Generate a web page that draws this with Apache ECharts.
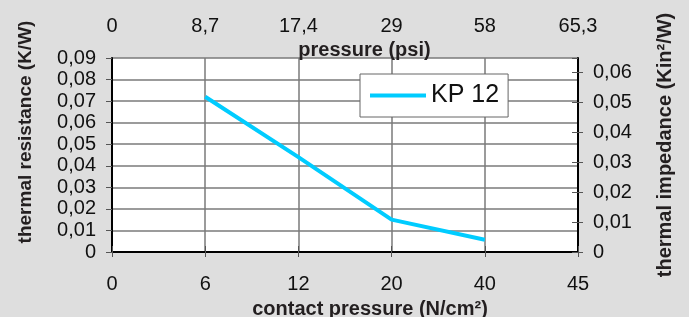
<!DOCTYPE html>
<html>
<head>
<meta charset="utf-8">
<script src="https://cdn.jsdelivr.net/npm/echarts@6/dist/echarts.min.js"></script>
<style>
  html, body { margin: 0; padding: 0; background: #dedede; }
  #chart { width: 689px; height: 317px; }
</style>
</head>
<body>
<div id="chart"></div>
<script>
// bottom axis categories (N/cm²) and matching top axis labels (psi)
const contactPressure = ['0', '6', '12', '20', '40', '45']
const pressurePsi = ['0', '8,7', '17,4', '29', '58', '65,3']

// KP 12 thermal resistance (K/W)
const kp12 = [null, 0.072, 0.044, 0.015, 0.0057, null]

const font = "'Liberation Sans', Arial, sans-serif"
const titleStyle = { color: '#231f20', fontSize: 20, fontWeight: 'bold', fontFamily: font }
const labelStyle = { color: '#111', fontSize: 20, fontFamily: font }

const comma = (v) => (v === 0 ? '0' : v.toFixed(2).replace('.', ','))

const chart = echarts.init(document.getElementById('chart'))

chart.setOption({
  backgroundColor: '#dedede',
  animation: false,
  grid: {
    left: 112,
    right: 111,
    top: 58,
    bottom: 65,
    outerBoundsMode: 'none',
    containLabel: false,
    backgroundColor: '#fff',
    show: true,
    borderWidth: 0,
  },
  legend: {
    left: 360,
    top: 74,
    padding: [9, 9, 9, 10],
    backgroundColor: '#fff',
    borderColor: '#666',
    borderWidth: 1,
    borderRadius: 0,
    icon: 'rect',
    itemWidth: 56,
    itemHeight: 4,
    textStyle: { color: '#111', fontSize: 25, fontFamily: font },
  },
  xAxis: [
    {
      type: 'category',
      position: 'bottom',
      data: contactPressure,
      boundaryGap: false,
      name: 'contact pressure (N/cm²)',
      nameLocation: 'middle',
      nameGap: 47,
      nameMoveOverlap: false,
      nameTextStyle: Object.assign({ padding: [0, 0, 0, 50] }, titleStyle),
      axisLine: { lineStyle: { color: '#000', width: 2 } },
      axisTick: { length: 5, lineStyle: { color: '#555' } },
      axisLabel: Object.assign({ margin: 22, interval: 0 }, labelStyle),
      splitLine: { show: true, lineStyle: { color: '#7a7a7a', width: 1.5 } },
    },
    {
      type: 'category',
      position: 'top',
      data: pressurePsi,
      boundaryGap: false,
      name: 'pressure (psi)',
      nameLocation: 'middle',
      nameGap: -2,
      nameMoveOverlap: false,
      nameTextStyle: Object.assign({ padding: [0, 0, 0, 39] }, titleStyle),
      axisLine: { lineStyle: { color: '#000', width: 2 } },
      axisTick: { length: 6, lineStyle: { color: '#555' } },
      axisLabel: Object.assign({ margin: 22, interval: 0 }, labelStyle),
      splitLine: { show: false },
    },
  ],
  yAxis: [
    {
      type: 'value',
      position: 'left',
      min: 0,
      max: 0.09,
      interval: 0.01,
      name: 'thermal resistance (K/W)',
      nameLocation: 'middle',
      nameRotate: 90,
      nameGap: 77,
      nameMoveOverlap: false,
      nameTextStyle: Object.assign({}, titleStyle, { fontSize: 19, padding: [0, 0, 0, 46] }),
      axisLine: { show: true, lineStyle: { color: '#000', width: 2 } },
      axisTick: { show: true, length: 6, lineStyle: { color: '#555' } },
      axisLabel: Object.assign({ margin: 16, formatter: comma, showMinLabel: true, showMaxLabel: true, hideOverlap: false }, labelStyle),
      splitLine: { show: true, lineStyle: { color: '#7a7a7a', width: 1.5 } },
    },
    {
      type: 'value',
      position: 'right',
      min: 0,
      max: 0.0647,
      interval: 0.01,
      name: 'thermal impedance (Kin²/W)',
      nameLocation: 'middle',
      nameRotate: 90,
      nameGap: 77,
      nameMoveOverlap: false,
      nameTextStyle: Object.assign({ padding: [0, 0, 0, 20] }, titleStyle),
      axisLine: { show: true, lineStyle: { color: '#000', width: 2 } },
      axisTick: { show: true, length: 5, lineStyle: { color: '#555' } },
      axisLabel: Object.assign({ margin: 15, formatter: comma, showMinLabel: true, showMaxLabel: false }, labelStyle),
      splitLine: { show: false },
    },
    {
      // inner half of the right-hand ticks
      type: 'value',
      position: 'right',
      min: 0,
      max: 0.0647,
      interval: 0.01,
      axisLine: { show: false },
      axisTick: { show: true, inside: true, length: 6, lineStyle: { color: '#555' } },
      axisLabel: { show: false },
      splitLine: { show: false },
    },
  ],
  series: [
    {
      name: 'KP 12',
      type: 'line',
      xAxisIndex: 0,
      yAxisIndex: 0,
      data: kp12,
      showSymbol: false,
      connectNulls: false,
      itemStyle: { color: '#00ccff' },
      lineStyle: { color: '#00ccff', width: 4 },
    },
  ],
})
</script>
</body>
</html>
